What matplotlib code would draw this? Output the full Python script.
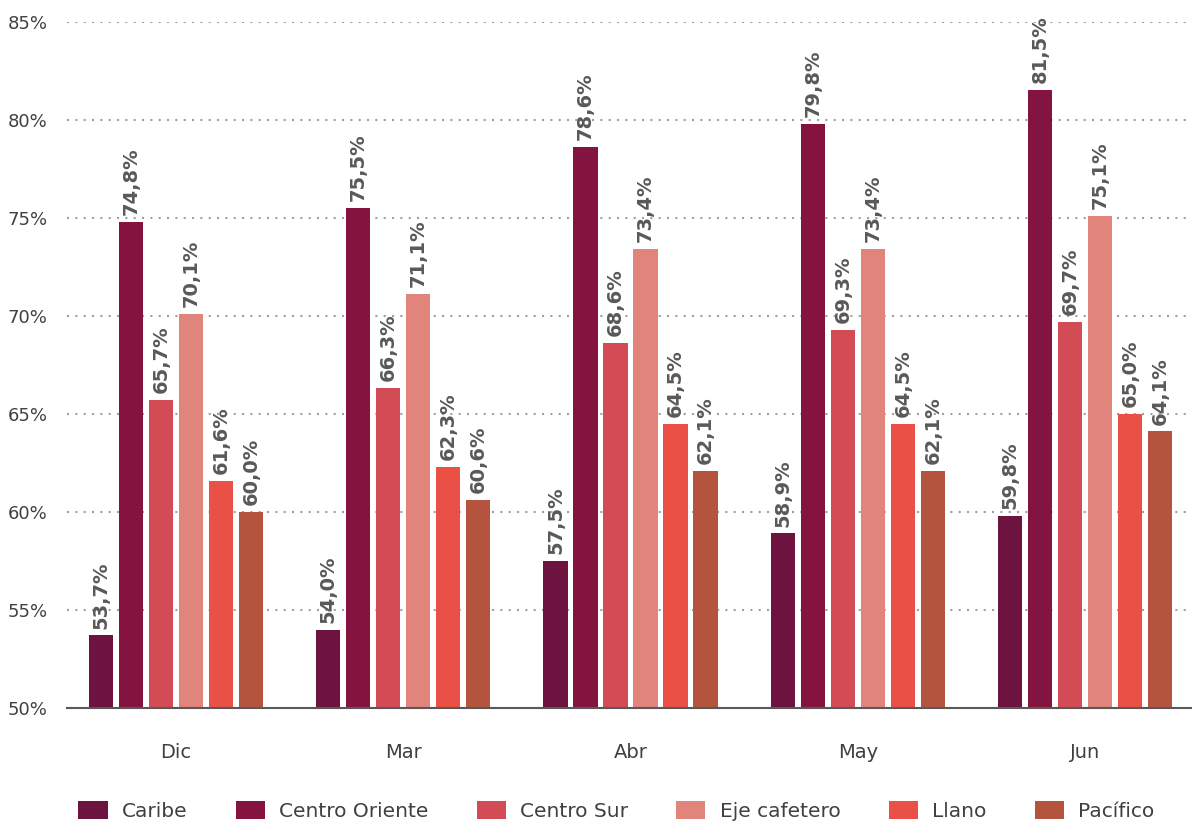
import numpy as np
import matplotlib
matplotlib.use("Agg")
import matplotlib.pyplot as plt

months = ["Dic", "Mar", "Abr", "May", "Jun"]
regions = ["Caribe", "Centro Oriente", "Centro Sur", "Eje cafetero", "Llano", "Pacífico"]

caribe = [53.7, 54.0, 57.5, 58.9, 59.8]
centro_oriente = [74.8, 75.5, 78.6, 79.8, 81.5]
centro_sur = [65.7, 66.3, 68.6, 69.3, 69.7]
eje_cafetero = [70.1, 71.1, 73.4, 73.4, 75.1]
llano = [61.6, 62.3, 64.5, 64.5, 65.0]
pacifico = [60.0, 60.6, 62.1, 62.1, 64.1]

series = [caribe, centro_oriente, centro_sur, eje_cafetero, llano, pacifico]
colors = ["#6e1240", "#85133f", "#d24b55", "#e0847c", "#ea5045", "#b4533e"]

plt.rcParams["font.family"] = ["DejaVu Sans"]

fig = plt.figure(figsize=(11.92, 8.31), dpi=100)
ax = fig.add_axes([0.056, 0.148, 0.944, 0.826])

x = np.arange(len(months))
width = 0.106
step = 0.132

for i, (vals, col, name) in enumerate(zip(series, colors, regions)):
    pos = x + (i - 2.5) * step
    ax.bar(pos, vals, width=width, color=col, label=name, zorder=3)
    for px, v in zip(pos, vals):
        ax.annotate(f"{v:.1f}%".replace(".", ","), (px, v), xytext=(0, 5),
                    textcoords="offset points", rotation=90, ha="center", va="bottom",
                    fontsize=14, fontweight="bold", color="#595959", zorder=4)

ax.set_ylim(50, 85)
ax.set_xlim(-0.48, 4.47)
ax.set_yticks(np.arange(50, 86, 5))
ax.set_yticklabels([f"{t}%" for t in range(50, 86, 5)])
ax.set_xticks(x)
ax.set_xticklabels(months)
ax.tick_params(axis="both", length=0, labelsize=13, colors="#404040")
ax.tick_params(axis="x", labelsize=14, pad=25)
ax.tick_params(axis="y", pad=14)
ax.grid(axis="y", linestyle=(0, (1, 3)), color="#a0a0a0", linewidth=1.5, zorder=0)
for s in ["top", "right", "left"]:
    ax.spines[s].set_visible(False)
ax.spines["bottom"].set_color("#595959")
ax.spines["bottom"].set_linewidth(1.5)
ax.spines["bottom"].set_zorder(5)

fig.legend(loc="lower center", bbox_to_anchor=(0.517, -0.01), ncol=6, frameon=False,
           fontsize=14.5, handlelength=1.45, handleheight=1.0, handletextpad=0.7,
           columnspacing=2.4, labelcolor="#404040")

fig.savefig("out.png", dpi=100)
